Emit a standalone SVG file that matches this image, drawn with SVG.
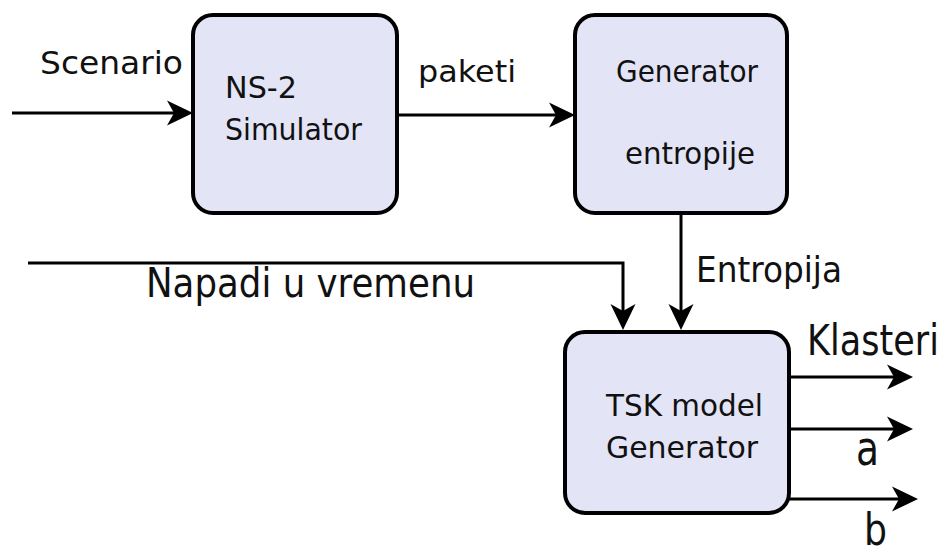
<svg xmlns="http://www.w3.org/2000/svg" width="948" height="556" viewBox="0 0 948 556">
  <style>
    .box { fill: #e4e4f7; stroke: #000; stroke-width: 4; }
    .lbl { font-family: "DejaVu Sans", Verdana, sans-serif; fill: #111; }
    .in { font-size: 30px; }
    .wire { fill: none; stroke: #000; stroke-width: 3; }
  </style>
  <defs>
    <marker id="head" markerUnits="userSpaceOnUse" viewBox="0 -13 27 26" refX="7" refY="0" markerWidth="27" markerHeight="26" orient="auto">
      <path d="M26,0 L0,-12.5 L7,0 L0,12.5 Z" fill="#000"/>
    </marker>
  </defs>

  <rect width="948" height="556" fill="#fff"/>

  <g id="connectors">
    <path class="wire" d="M12,113 H174" marker-end="url(#head)"/>
    <path class="wire" d="M397,115 H556" marker-end="url(#head)"/>
    <path class="wire" d="M681,213 V311" marker-end="url(#head)"/>
    <path class="wire" d="M28,263 H623 V311" marker-end="url(#head)"/>
    <path class="wire" d="M789,377 H894" marker-end="url(#head)"/>
    <path class="wire" d="M789,429 H894" marker-end="url(#head)"/>
    <path class="wire" d="M789,499 H899" marker-end="url(#head)"/>
  </g>

  <g id="ns2">
    <rect class="box" x="193" y="15" width="204" height="198" rx="20"/>
    <text class="lbl in" x="225" y="98" textLength="72" lengthAdjust="spacingAndGlyphs">NS-2</text>
    <text class="lbl in" x="225" y="140" textLength="137" lengthAdjust="spacingAndGlyphs">Simulator</text>
  </g>

  <g id="entropy-gen">
    <rect class="box" x="575" y="15" width="212" height="198" rx="20"/>
    <text class="lbl in" x="616" y="82" textLength="142" lengthAdjust="spacingAndGlyphs">Generator</text>
    <text class="lbl in" x="625" y="164" textLength="130" lengthAdjust="spacingAndGlyphs">entropije</text>
  </g>

  <g id="tsk">
    <rect class="box" x="565" y="332" width="224" height="181" rx="20"/>
    <text class="lbl in" x="606" y="416" textLength="157" lengthAdjust="spacingAndGlyphs">TSK model</text>
    <text class="lbl in" x="606" y="458" textLength="152" lengthAdjust="spacingAndGlyphs">Generator</text>
  </g>

  <g id="labels">
    <text class="lbl" x="40" y="74" font-size="32" textLength="143" lengthAdjust="spacingAndGlyphs">Scenario</text>
    <text class="lbl" x="418" y="82" font-size="30" textLength="98" lengthAdjust="spacingAndGlyphs">paketi</text>
    <text class="lbl" x="696" y="282" font-size="36" textLength="146" lengthAdjust="spacingAndGlyphs">Entropija</text>
    <text class="lbl" x="146" y="297" font-size="40" textLength="329" lengthAdjust="spacingAndGlyphs">Napadi u vremenu</text>
    <text class="lbl" transform="translate(807,355) scale(0.815,1)" x="0" y="0" font-size="43">Klasteri</text>
    <text class="lbl" x="856" y="465" font-size="48" textLength="23" lengthAdjust="spacingAndGlyphs">a</text>
    <text class="lbl" x="864" y="545" font-size="44" textLength="23" lengthAdjust="spacingAndGlyphs">b</text>
  </g>
</svg>
